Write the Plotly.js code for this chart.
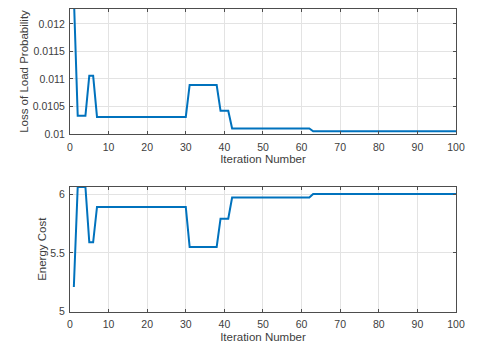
<!DOCTYPE html>
<html>
<head>
<meta charset="utf-8">
<script src="https://cdn.plot.ly/plotly-3.0.1.min.js"></script>
<style>
  html, body { margin: 0; padding: 0; background: #fff; }
  #chart { width: 480px; height: 353px; }
</style>
</head>
<body>
<div id="chart"></div>
<script>
// iteration numbers 1..100
const iterations = [
  1, 2, 3, 4, 5, 6, 7, 8, 9, 10,
  11, 12, 13, 14, 15, 16, 17, 18, 19, 20,
  21, 22, 23, 24, 25, 26, 27, 28, 29, 30,
  31, 32, 33, 34, 35, 36, 37, 38, 39, 40,
  41, 42, 43, 44, 45, 46, 47, 48, 49, 50,
  51, 52, 53, 54, 55, 56, 57, 58, 59, 60,
  61, 62, 63, 64, 65, 66, 67, 68, 69, 70,
  71, 72, 73, 74, 75, 76, 77, 78, 79, 80,
  81, 82, 83, 84, 85, 86, 87, 88, 89, 90,
  91, 92, 93, 94, 95, 96, 97, 98, 99, 100
];

// loss of load probability per iteration
const lolp = [
  0.0125, 0.01033, 0.01033, 0.01033, 0.01106, 0.01106, 0.01031, 0.01031, 0.01031, 0.01031,
  0.01031, 0.01031, 0.01031, 0.01031, 0.01031, 0.01031, 0.01031, 0.01031, 0.01031, 0.01031,
  0.01031, 0.01031, 0.01031, 0.01031, 0.01031, 0.01031, 0.01031, 0.01031, 0.01031, 0.01031,
  0.01089, 0.01089, 0.01089, 0.01089, 0.01089, 0.01089, 0.01089, 0.01089, 0.01042, 0.01042,
  0.01042, 0.0101, 0.0101, 0.0101, 0.0101, 0.0101, 0.0101, 0.0101, 0.0101, 0.0101,
  0.0101, 0.0101, 0.0101, 0.0101, 0.0101, 0.0101, 0.0101, 0.0101, 0.0101, 0.0101,
  0.0101, 0.0101, 0.01005, 0.01005, 0.01005, 0.01005, 0.01005, 0.01005, 0.01005, 0.01005,
  0.01005, 0.01005, 0.01005, 0.01005, 0.01005, 0.01005, 0.01005, 0.01005, 0.01005, 0.01005,
  0.01005, 0.01005, 0.01005, 0.01005, 0.01005, 0.01005, 0.01005, 0.01005, 0.01005, 0.01005,
  0.01005, 0.01005, 0.01005, 0.01005, 0.01005, 0.01005, 0.01005, 0.01005, 0.01005, 0.01005
];

// energy cost per iteration
const energyCost = [
  5.21, 6.06, 6.06, 6.06, 5.59, 5.59, 5.89, 5.89, 5.89, 5.89,
  5.89, 5.89, 5.89, 5.89, 5.89, 5.89, 5.89, 5.89, 5.89, 5.89,
  5.89, 5.89, 5.89, 5.89, 5.89, 5.89, 5.89, 5.89, 5.89, 5.89,
  5.55, 5.55, 5.55, 5.55, 5.55, 5.55, 5.55, 5.55, 5.79, 5.79,
  5.79, 5.97, 5.97, 5.97, 5.97, 5.97, 5.97, 5.97, 5.97, 5.97,
  5.97, 5.97, 5.97, 5.97, 5.97, 5.97, 5.97, 5.97, 5.97, 5.97,
  5.97, 5.97, 6.0, 6.0, 6.0, 6.0, 6.0, 6.0, 6.0, 6.0,
  6.0, 6.0, 6.0, 6.0, 6.0, 6.0, 6.0, 6.0, 6.0, 6.0,
  6.0, 6.0, 6.0, 6.0, 6.0, 6.0, 6.0, 6.0, 6.0, 6.0,
  6.0, 6.0, 6.0, 6.0, 6.0, 6.0, 6.0, 6.0, 6.0, 6.0
];

const xTicks = [0, 10, 20, 30, 40, 50, 60, 70, 80, 90, 100];
const lolpTicks = [0.01, 0.0105, 0.011, 0.0115, 0.012];
const lolpTickText = ['0.01', '0.0105', '0.011', '0.0115', '0.012'];
const costTicks = [5, 5.5, 6];
const costTickText = ['5', '5.5', '6'];

const lineColor = '#0072BD';
const axisColor = '#4d4d4d';
const gridColor = '#e3e3e3';
const textFont = { family: 'Liberation Sans, Arial, sans-serif', size: 10.5, color: '#404040' };
const titleFont = { family: 'Liberation Sans, Arial, sans-serif', size: 11.5, color: '#404040' };

function axisStyle(extra) {
  return Object.assign({
    showline: true,
    linecolor: axisColor,
    linewidth: 1,
    mirror: 'allticks',
    ticks: 'inside',
    ticklen: 3,
    tickcolor: axisColor,
    showgrid: true,
    gridcolor: gridColor,
    gridwidth: 1,
    zeroline: false,
    tickfont: textFont,
    automargin: false
  }, extra);
}

Plotly.newPlot('chart', [
  {
    x: iterations,
    y: lolp,
    type: 'scatter',
    mode: 'lines',
    line: { color: lineColor, width: 2 },
    xaxis: 'x',
    yaxis: 'y'
  },
  {
    x: iterations,
    y: energyCost,
    type: 'scatter',
    mode: 'lines',
    line: { color: lineColor, width: 2 },
    xaxis: 'x2',
    yaxis: 'y2'
  }
], {
  width: 480,
  height: 353,
  margin: { l: 0, r: 0, t: 0, b: 0 },
  paper_bgcolor: '#fff',
  plot_bgcolor: '#fff',
  showlegend: false,
  xaxis: axisStyle({
    domain: [0.1458, 0.95],
    anchor: 'y',
    range: [0, 100],
    tickvals: xTicks,
    ticklabelstandoff: 3,
    title: { text: 'Iteration Number', font: titleFont, standoff: 3 }
  }),
  yaxis: axisStyle({
    domain: [0.6204, 0.9745],
    anchor: 'x',
    range: [0.01, 0.01227],
    tickvals: lolpTicks,
    ticktext: lolpTickText,
    ticklabelstandoff: 2,
    title: { text: 'Loss of Load Probability', font: titleFont, standoff: 1 }
  }),
  xaxis2: axisStyle({
    domain: [0.1458, 0.95],
    anchor: 'y2',
    range: [0, 100],
    tickvals: xTicks,
    ticklabelstandoff: 3,
    title: { text: 'Iteration Number', font: titleFont, standoff: 3 }
  }),
  yaxis2: axisStyle({
    domain: [0.117, 0.4711],
    anchor: 'x2',
    range: [5, 6.062],
    tickvals: costTicks,
    ticktext: costTickText,
    ticklabelstandoff: 2,
    title: { text: 'Energy Cost', font: titleFont, standoff: 1 }
  })
}, { displayModeBar: false, staticPlot: true });
</script>
</body>
</html>
